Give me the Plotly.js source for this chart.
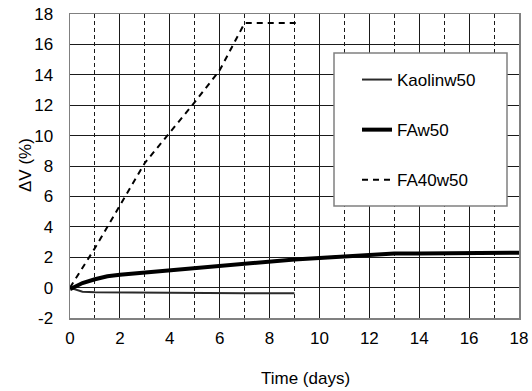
<!DOCTYPE html>
<html>
<head>
<meta charset="utf-8">
<script src="https://cdn.plot.ly/plotly-3.0.1.min.js"></script>
<style>html,body{margin:0;padding:0;background:#fff;}#chart{width:532px;height:391px;}</style>
</head>
<body>
<div id="chart"></div>
<script>
const seriesNames = ["Kaolinw50", "FAw50", "FA40w50"];

const kaolinDays = [0, 0.5, 1, 2, 3, 4, 5, 6, 7, 8, 9];
const kaolinDV = [0, -0.27, -0.3, -0.32, -0.33, -0.34, -0.35, -0.36, -0.37, -0.37, -0.37];

const faDays = [0, 0.5, 1, 1.5, 2, 3, 4, 5, 6, 7, 8, 9, 10, 11, 12, 13, 14, 15, 16, 17, 18];
const faDV = [-0.1, 0.3, 0.55, 0.75, 0.85, 1.0, 1.15, 1.3, 1.45, 1.6, 1.75, 1.85, 1.95, 2.05, 2.2, 2.25, 2.25, 2.27, 2.28, 2.28, 2.3];

const fa40Days = [0, 1, 2, 3, 4, 5, 6, 7, 8, 9.2];
const fa40DV = [0, 2.6, 5.4, 8.2, 10.2, 12.2, 14.3, 17.4, 17.4, 17.4];

const xTickVals = [0, 2, 4, 6, 8, 10, 12, 14, 16, 18];
const xTickText = ["0", "2", "4", "6", "8", "10", "12", "14", "16", "18"];
const yTickVals = [-2, 0, 2, 4, 6, 8, 10, 12, 14, 16, 18];
const yTickText = ["-2", "0", "2", "4", "6", "8", "10", "12", "14", "16", "18"];

const font = "Arial, 'Liberation Sans', sans-serif";

const traces = [
  {x: kaolinDays, y: kaolinDV, name: seriesNames[0], mode: "lines", legendgroup: "a",
   line: {color: "#2a2a2a", width: 2}},
  {x: faDays, y: faDV, name: seriesNames[1], mode: "lines", legendgroup: "b",
   line: {color: "#000", width: 4}},
  {x: fa40Days, y: fa40DV, name: seriesNames[2], mode: "lines", legendgroup: "c",
   line: {color: "#000", width: 2, dash: "6px,5px"}}
];

const W = 532, H = 391, L = 70, R = 13, T = 14, B = 73;
const pw = W - L - R, ph = H - T - B;
function px2x(p){ return (p - L) / pw; }
function py2y(p){ return 1 - (p - T) / ph; }

const layout = {
  width: W, height: H,
  margin: {l: L, r: R, t: T, b: B},
  paper_bgcolor: "#fff", plot_bgcolor: "#fff",
  font: {family: font, size: 17, color: "#000"},
  showlegend: true,
  legend: {
    x: px2x(357), y: py2y(62), xanchor: "left", yanchor: "top",
    bgcolor: "rgba(0,0,0,0)", borderwidth: 0,
    font: {family: font, size: 17, color: "#000"},
    tracegroupgap: 25, traceorder: "grouped"
  },
  xaxis: {
    range: [0, 18], tickvals: xTickVals, ticktext: xTickText, ticks: "", ticklabelstandoff: 4,
    showgrid: true, gridcolor: "#1a1a1a", gridwidth: 1,
    minor: {dtick: 1, showgrid: true, gridcolor: "#1a1a1a", gridwidth: 1, griddash: "4px,3px"},
    showline: true, mirror: true, linecolor: "#808080", linewidth: 1.5,
    zeroline: false, tickfont: {size: 17}
  },
  yaxis: {
    range: [-2, 18], tickvals: yTickVals, ticktext: yTickText, ticks: "", ticklabelstandoff: 12,
    showgrid: true, gridcolor: "#1a1a1a", gridwidth: 1,
    showline: true, mirror: true, linecolor: "#808080", linewidth: 1.5,
    zeroline: false, tickfont: {size: 17}
  },
  shapes: [
    {type: "rect", xref: "paper", yref: "paper", layer: "above",
     x0: px2x(334), x1: px2x(507), y0: py2y(206), y1: py2y(53),
     fillcolor: "#fff", line: {color: "#808080", width: 1.5}}
  ],
  annotations: [
    {text: "Time (days)", xref: "paper", yref: "paper", x: px2x(305), y: py2y(378),
     xanchor: "center", yanchor: "middle", showarrow: false, font: {size: 17}},
    {text: "ΔV (%)", xref: "paper", yref: "paper", x: px2x(25), y: py2y(165),
     xanchor: "center", yanchor: "middle", textangle: -90, showarrow: false, font: {size: 17}}
  ]
};

Plotly.newPlot("chart", traces, layout, {displayModeBar: false, staticPlot: true});
</script>
</body>
</html>
